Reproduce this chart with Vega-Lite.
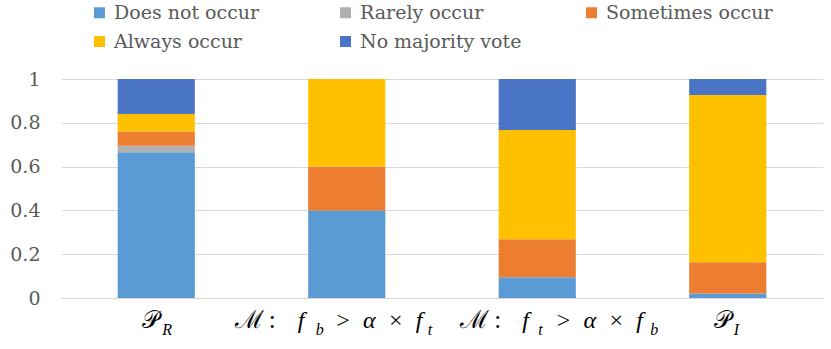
{
  "$schema": "https://vega.github.io/schema/vega-lite/v6.json",
  "width": 762,
  "height": 219,
  "autosize": "none",
  "padding": {"left": 61, "top": 79, "right": 8, "bottom": 51},
  "config": {
    "view": {"stroke": null},
    "text": {"font": "Liberation Serif", "align": "left", "baseline": "alphabetic", "color": "#000000"}
  },
  "encoding": {
    "x": {
      "field": "cat",
      "type": "nominal",
      "sort": null,
      "scale": {"domain": ["PR", "M1", "M2", "PI"], "paddingInner": 0.595, "paddingOuter": 0.2975},
      "axis": {"title": null, "labels": false, "ticks": false, "domainColor": "#D9D9D9"}
    }
  },
  "layer": [
    {
      "data": {
        "values": [
          {"cat": "PR", "response": "Does not occur", "idx": 1, "value": 0.665},
          {"cat": "PR", "response": "Rarely occur", "idx": 2, "value": 0.03},
          {"cat": "PR", "response": "Sometimes occur", "idx": 3, "value": 0.065},
          {"cat": "PR", "response": "Always occur", "idx": 4, "value": 0.08},
          {"cat": "PR", "response": "No majority vote", "idx": 5, "value": 0.16},
          {"cat": "M1", "response": "Does not occur", "idx": 1, "value": 0.4},
          {"cat": "M1", "response": "Rarely occur", "idx": 2, "value": 0},
          {"cat": "M1", "response": "Sometimes occur", "idx": 3, "value": 0.2},
          {"cat": "M1", "response": "Always occur", "idx": 4, "value": 0.4},
          {"cat": "M1", "response": "No majority vote", "idx": 5, "value": 0},
          {"cat": "M2", "response": "Does not occur", "idx": 1, "value": 0.095},
          {"cat": "M2", "response": "Rarely occur", "idx": 2, "value": 0},
          {"cat": "M2", "response": "Sometimes occur", "idx": 3, "value": 0.173},
          {"cat": "M2", "response": "Always occur", "idx": 4, "value": 0.499},
          {"cat": "M2", "response": "No majority vote", "idx": 5, "value": 0.233},
          {"cat": "PI", "response": "Does not occur", "idx": 1, "value": 0.02},
          {"cat": "PI", "response": "Rarely occur", "idx": 2, "value": 0},
          {"cat": "PI", "response": "Sometimes occur", "idx": 3, "value": 0.143},
          {"cat": "PI", "response": "Always occur", "idx": 4, "value": 0.764},
          {"cat": "PI", "response": "No majority vote", "idx": 5, "value": 0.073}
        ]
      },
      "mark": {"type": "bar"},
      "encoding": {
        "y": {
          "field": "value",
          "type": "quantitative",
          "stack": "zero",
          "scale": {"domain": [0, 1]},
          "axis": {
            "title": null,
            "values": [0, 0.2, 0.4, 0.6, 0.8, 1],
            "format": "~g",
            "domain": false,
            "ticks": false,
            "gridColor": "#D9D9D9",
            "labelFont": "DejaVu Serif",
            "labelColor": "#595959",
            "labelFontSize": 19,
            "labelPadding": 21
          }
        },
        "color": {
          "field": "response",
          "type": "nominal",
          "scale": {
            "domain": ["Does not occur", "Rarely occur", "Sometimes occur", "Always occur", "No majority vote"],
            "range": ["#5B9BD5", "#B0B0B0", "#ED7D31", "#FFC000", "#4A74C6"]
          },
          "legend": {
            "title": null,
            "orient": "none",
            "direction": "horizontal",
            "legendX": 29,
            "legendY": -76,
            "columns": 3,
            "gridAlign": "all",
            "symbolType": "square",
            "symbolSize": 121,
            "symbolStrokeWidth": 0,
            "labelFont": "DejaVu Serif",
            "labelFontSize": 19,
            "labelColor": "#595959",
            "labelOffset": 5,
            "labelLimit": 300,
            "columnPadding": 55,
            "rowPadding": 9,
            "padding": 0
          }
        },
        "order": {"field": "idx"}
      }
    },
    {
      "data": {"values": [{"cat": "PR", "t": "𝒫"}, {"cat": "PI", "t": "𝒫"}]},
      "mark": {"type": "text", "dx": -14, "dy": 30, "fontSize": 24},
      "encoding": {"y": {"datum": 0}, "text": {"field": "t"}}
    },
    {
      "data": {"values": [{"cat": "PR", "t": "R"}, {"cat": "PI", "t": "I"}]},
      "mark": {"type": "text", "dx": 6, "dy": 37, "fontSize": 16, "fontStyle": "italic"},
      "encoding": {"y": {"datum": 0}, "text": {"field": "t"}}
    },
    {
      "data": {"values": [{"cat": "M1", "t": "ℳ\u2009:"}]},
      "mark": {"type": "text", "dx": -112, "dy": 30, "fontSize": 25},
      "encoding": {"y": {"datum": 0}, "text": {"field": "t"}}
    },
    {
      "data": {"values": [{"cat": "M1", "t": "f"}]},
      "mark": {"type": "text", "dx": -49, "dy": 30, "fontSize": 24, "fontStyle": "italic"},
      "encoding": {"y": {"datum": 0}, "text": {"field": "t"}}
    },
    {
      "data": {"values": [{"cat": "M1", "t": "b"}]},
      "mark": {"type": "text", "dx": -31, "dy": 37, "fontSize": 16, "fontStyle": "italic"},
      "encoding": {"y": {"datum": 0}, "text": {"field": "t"}}
    },
    {
      "data": {"values": [{"cat": "M1", "t": ">\u2002α\u2002×\u2002f"}]},
      "mark": {"type": "text", "dx": -12, "dy": 30, "fontSize": 24, "fontStyle": "italic"},
      "encoding": {"y": {"datum": 0}, "text": {"field": "t"}}
    },
    {
      "data": {"values": [{"cat": "M1", "t": "t"}]},
      "mark": {"type": "text", "dx": 81, "dy": 37, "fontSize": 16, "fontStyle": "italic"},
      "encoding": {"y": {"datum": 0}, "text": {"field": "t"}}
    },
    {
      "data": {"values": [{"cat": "M2", "t": "ℳ\u2009:"}]},
      "mark": {"type": "text", "dx": -77, "dy": 30, "fontSize": 25},
      "encoding": {"y": {"datum": 0}, "text": {"field": "t"}}
    },
    {
      "data": {"values": [{"cat": "M2", "t": "f"}]},
      "mark": {"type": "text", "dx": -15, "dy": 30, "fontSize": 24, "fontStyle": "italic"},
      "encoding": {"y": {"datum": 0}, "text": {"field": "t"}}
    },
    {
      "data": {"values": [{"cat": "M2", "t": "t"}]},
      "mark": {"type": "text", "dx": 1, "dy": 37, "fontSize": 16, "fontStyle": "italic"},
      "encoding": {"y": {"datum": 0}, "text": {"field": "t"}}
    },
    {
      "data": {"values": [{"cat": "M2", "t": ">\u2002α\u2002×\u2002f"}]},
      "mark": {"type": "text", "dx": 18, "dy": 30, "fontSize": 24, "fontStyle": "italic"},
      "encoding": {"y": {"datum": 0}, "text": {"field": "t"}}
    },
    {
      "data": {"values": [{"cat": "M2", "t": "b"}]},
      "mark": {"type": "text", "dx": 113, "dy": 37, "fontSize": 16, "fontStyle": "italic"},
      "encoding": {"y": {"datum": 0}, "text": {"field": "t"}}
    }
  ]
}
